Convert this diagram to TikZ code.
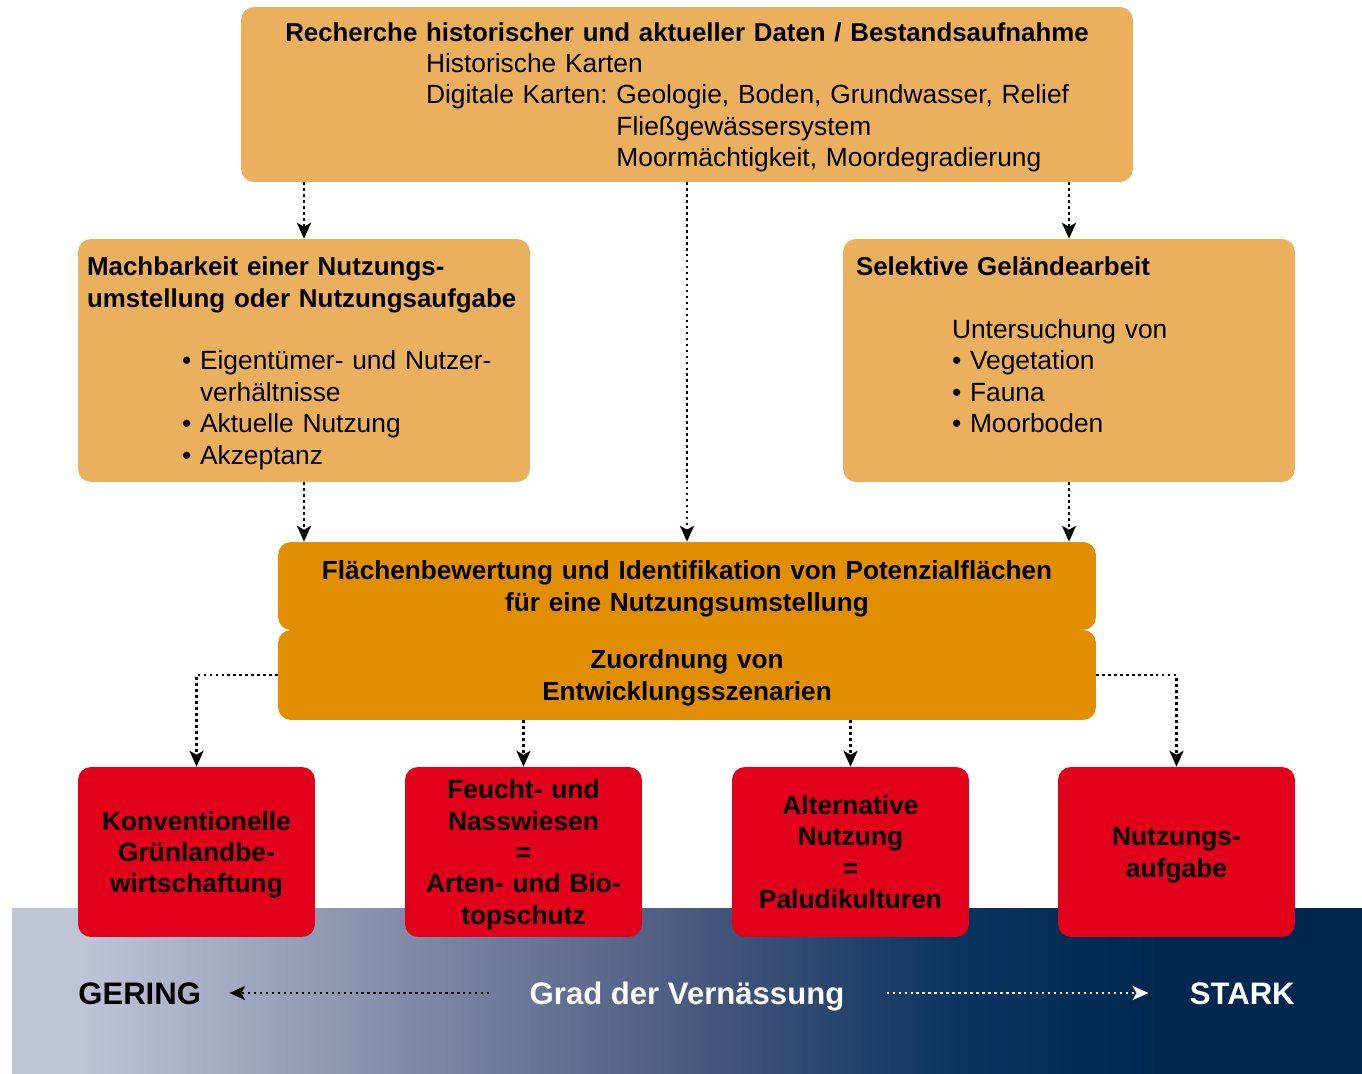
\documentclass[tikz,border=0pt]{standalone}
\usepackage{fontspec}
\setmainfont{Liberation Sans}
\usetikzlibrary{arrows.meta}
\definecolor{hellorange}{HTML}{EBB05D}
\definecolor{dunkelorange}{HTML}{E18F00}
\definecolor{signalrot}{HTML}{E2001A}
\definecolor{blauhell}{HTML}{C0C4D7}
\definecolor{blaumitte}{HTML}{4B5A80}
\definecolor{blaunacht}{HTML}{0A3460}
\definecolor{blaudunkel}{HTML}{00284F}
\pgfdeclarehorizontalshading{verlauf}{100bp}{color(0bp)=(blauhell); color(25bp)=(blauhell);
  color(27.5bp)=(blauhell); color(50bp)=(blaumitte); color(60bp)=(blaunacht);
  color(67.5bp)=(blaudunkel); color(100bp)=(blaudunkel)}
\frenchspacing
\begin{document}
\begin{tikzpicture}[x=0.02cm,y=-0.02cm,
  box/.style={rounded corners=0.26cm,inner sep=0pt,font=\fontsize{15}{17.9}\selectfont,
    execute at begin node={\rule{0pt}{14pt}},execute at end node={\rule[-3.2pt]{0pt}{3.2pt}}},
  seitenbox/.style={box,fill=hellorange,minimum width=9.04cm,minimum height=4.86cm,align=left},
  mittebox/.style={box,fill=dunkelorange,minimum width=16.36cm,text width=16.36cm,align=center,font=\fontsize{14.9}{17.9}\selectfont\bfseries},
  rotbox/.style={box,fill=signalrot,minimum width=4.74cm,text width=4.74cm,minimum height=3.4cm,align=center,font=\fontsize{15}{17.9}\selectfont\bfseries},
  skala/.style={inner sep=0pt,text height=0.45cm,text depth=0pt,font=\fontsize{17.7}{20}\selectfont\bfseries},
  pfeil/.style={line width=1.4pt,dash pattern=on 1.4pt off 2pt,-{Stealth[length=9pt,width=8pt,inset=2.2pt]}}]
\useasboundingbox (0,0) rectangle (1362,1074);
\shade[shading=verlauf] (12,908) rectangle (1362,1074);

\node[box,fill=hellorange,minimum width=17.84cm,minimum height=3.5cm,text width=17.84cm,align=left] (recherche) at (687,94.5)
  {\makebox[17.84cm][c]{\fontsize{14.7}{17.9}\selectfont\bfseries Recherche historischer und aktueller Daten / Bestandsaufnahme}\\
   \hspace*{3.7cm}Historische Karten\\
   \hspace*{3.7cm}Digitale Karten: Geologie, Boden, Grundwasser, Relief\\
   \hspace*{3.7cm}\phantom{Digitale Karten: }Fließgewässersystem\\
   \hspace*{3.7cm}\phantom{Digitale Karten: }Moormächtigkeit, Moordegradierung};
\node[seitenbox,text width=8.68cm,inner xsep=0.18cm] (machbar) at (304,360.5)
  {\mbox{\fontsize{14.75}{17.9}\selectfont\bfseries Machbarkeit einer Nutzungs-}\\
   \mbox{\fontsize{14.75}{17.9}\selectfont\bfseries umstellung oder Nutzungsaufgabe}\\ ~\\
   \hspace*{1.9cm}\textbullet\ Eigentümer- und Nutzer-\\
   \hspace*{1.9cm}\phantom{\textbullet\ }verhältnisse\\
   \hspace*{1.9cm}\textbullet\ Aktuelle Nutzung\\
   \hspace*{1.9cm}\textbullet\ Akzeptanz};
\node[seitenbox,text width=8.52cm,inner xsep=0.26cm] (gelaende) at (1069,360.5)
  {\mbox{\fontsize{14.75}{17.9}\selectfont\bfseries Selektive Geländearbeit}\\ ~\\
   \hspace*{1.92cm}Untersuchung von\\
   \hspace*{1.92cm}\textbullet\ Vegetation\\
   \hspace*{1.92cm}\textbullet\ Fauna\\
   \hspace*{1.92cm}\textbullet\ Moorboden\\ ~};
\node[mittebox,minimum height=1.76cm] (flaeche) at (687,586) {Flächenbewertung und Identifikation von Potenzialflächen\\für eine Nutzungsumstellung};
\node[mittebox,minimum height=1.8cm] (zuordnung) at (687,675) {Zuordnung von\\Entwicklungsszenarien};

\node[rotbox] (konv) at (196.5,852) {Konventionelle\\Grünlandbe-\\wirtschaftung};
\node[rotbox] (feucht) at (523.5,852) {Feucht- und\\Nasswiesen\\=\\Arten- und Bio-\\topschutz};
\node[rotbox] (alternativ) at (850.5,852) {Alternative\\Nutzung\\=\\Paludikulturen};
\node[rotbox] (aufgabe) at (1176.5,852) {Nutzungs-\\aufgabe};

\draw[pfeil] (recherche.south -| machbar.north) -- (machbar.north);
\draw[pfeil] (recherche.south -| gelaende.north) -- (gelaende.north);
\draw[pfeil] (recherche) -- (flaeche);
\draw[pfeil] (machbar.south) -- (machbar.south |- flaeche.north);
\draw[pfeil] (gelaende.south) -- (gelaende.south |- flaeche.north);
\draw[pfeil] (zuordnung.west) -| (konv.north);
\draw[pfeil] (zuordnung.south -| feucht.north) -- (feucht.north);
\draw[pfeil] (zuordnung.south -| alternativ.north) -- (alternativ.north);
\draw[pfeil] (zuordnung.east) -| (aufgabe.north);

\node[skala,anchor=west] (gering) at (78,993) {GERING};
\node[skala,text=white] (grad) at (687,993) {Grad der Vernässung};
\node[skala,text=white,anchor=east] (stark) at (1295,993) {STARK};
\draw[pfeil,shorten <=0.8cm,shorten >=0.56cm] (grad.west) -- (gering.east);
\draw[pfeil,white,shorten <=0.84cm,shorten >=0.82cm] (grad.east) -- (stark.west);
\end{tikzpicture}
\end{document}
